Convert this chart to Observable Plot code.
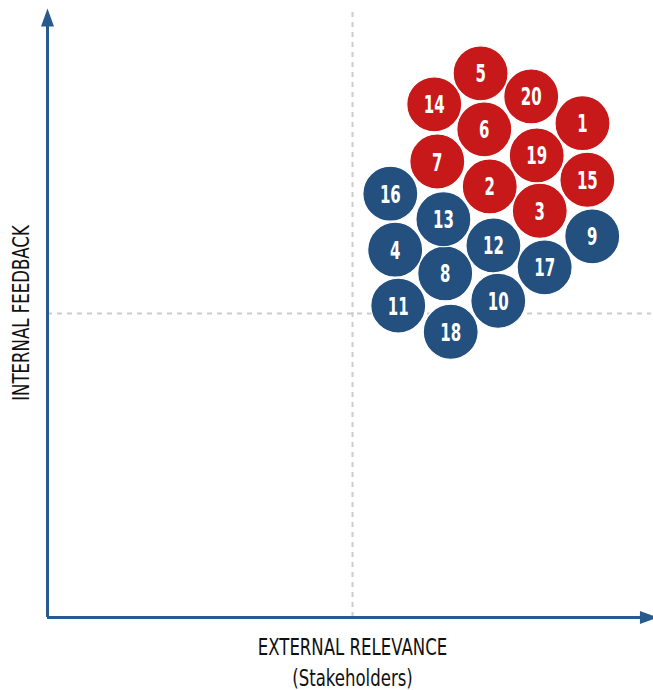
<!DOCTYPE html>
<html>
<head>
<meta charset="utf-8">
<script src="https://cdn.jsdelivr.net/npm/d3@7"></script>
<script src="https://cdn.jsdelivr.net/npm/@observablehq/plot@0.6"></script>
<style>
  html, body { margin: 0; padding: 0; background: #fff; }
  #chart svg { display: block; }
</style>
</head>
<body>
<div id="chart"></div>
<script>
const ids    = [1, 2, 3, 4, 5, 6, 7, 8, 9, 10, 11, 12, 13, 14, 15, 16, 17, 18, 19, 20];
const xVals  = [87.7, 72.5, 80.7, 57.0, 71.0, 71.6, 63.9, 65.2, 89.3, 73.9, 57.5, 73.1, 64.9, 63.4, 88.5, 56.2, 81.5, 66.1, 80.2, 79.3];
const yVals  = [81.3, 70.9, 66.9, 60.5, 89.5, 80.3, 75.0, 56.6, 62.7, 52.1, 51.3, 61.2, 65.5, 84.4, 72.0, 69.7, 57.6, 47.0, 76.0, 85.7];
const groups = ["G1","G1","G1","G2","G1","G1","G1","G2","G2","G2","G2","G2","G2","G1","G1","G2","G2","G2","G1","G1"];
const xLabel1 = "EXTERNAL RELEVANCE";
const xLabel2 = "(Stakeholders)";
const yLabel = "INTERNAL FEEDBACK";

const data = ids.map((id, i) => ({id, x: xVals[i], y: yVals[i], g: groups[i]}));

const axisColor = "#285a8e";
const font = "'DejaVu Sans', sans-serif";

const arrowUp = {
  draw(ctx) {
    ctx.moveTo(0, -12);
    ctx.lineTo(6.5, 6);
    ctx.lineTo(-6.5, 6);
    ctx.closePath();
  }
};

const chart = Plot.plot({
  width: 653,
  height: 690,
  marginLeft: 47,
  marginRight: 0,
  marginTop: 0,
  marginBottom: 73,
  style: {fontFamily: font},
  x: {domain: [0, 100], range: [47, 657], axis: null},
  y: {domain: [0, 100], range: [617, 9], axis: null},
  color: {domain: ["G1", "G2"], range: ["#c8191a", "#24507f"]},
  marks: [
    Plot.ruleX([50], {y1: 0, y2: 99.5, stroke: "#cccccc", strokeWidth: 2, strokeDasharray: "5,5"}),
    Plot.ruleY([50], {x1: 0, x2: 99, stroke: "#cccccc", strokeWidth: 2, strokeDasharray: "5,5"}),
    Plot.ruleX([0], {y1: 0, y2: 97.5, stroke: axisColor, strokeWidth: 3}),
    Plot.ruleY([0], {x1: 0, x2: 97.5, stroke: axisColor, strokeWidth: 3}),
    Plot.dot([{x: 0, y: 98.2}], {x: "x", y: "y", symbol: arrowUp, r: 5, fill: axisColor, stroke: "none"}),
    Plot.dot([{x: 98.1, y: 0}], {x: "x", y: "y", symbol: arrowUp, r: 5, fill: axisColor, stroke: "none", rotate: 90}),
    Plot.dot(data, {x: "x", y: "y", r: 27.5, fill: "g", stroke: "white", strokeWidth: 1.2}),
    Plot.text(data, {x: "x", y: "y", text: "id", fill: "white", fontSize: 25, fontWeight: "bold", dy: 1}),
    Plot.text([xLabel1], {frameAnchor: "bottom", textAnchor: "middle", lineAnchor: "middle", dx: 2, dy: 30, fontSize: 23, fill: "#111"}),
    Plot.text([xLabel2], {frameAnchor: "bottom", textAnchor: "middle", lineAnchor: "middle", dx: 2, dy: 61, fontSize: 23, fill: "#111"}),
    Plot.text([yLabel], {frameAnchor: "left", textAnchor: "middle", lineAnchor: "middle", dx: -26, dy: 4, rotate: -90, fontSize: 23, fill: "#111"})
  ]
});
document.getElementById("chart").appendChild(chart);

// condense glyphs horizontally to mimic a narrow typeface
chart.querySelectorAll("text").forEach(t => {
  const s = t.textContent.trim();
  const k = /^\d+$/.test(s) ? 0.6 : 0.72;
  const len = t.getComputedTextLength();
  t.setAttribute("textLength", (len * k).toFixed(1));
  t.setAttribute("lengthAdjust", "spacingAndGlyphs");
});
</script>
</body>
</html>
